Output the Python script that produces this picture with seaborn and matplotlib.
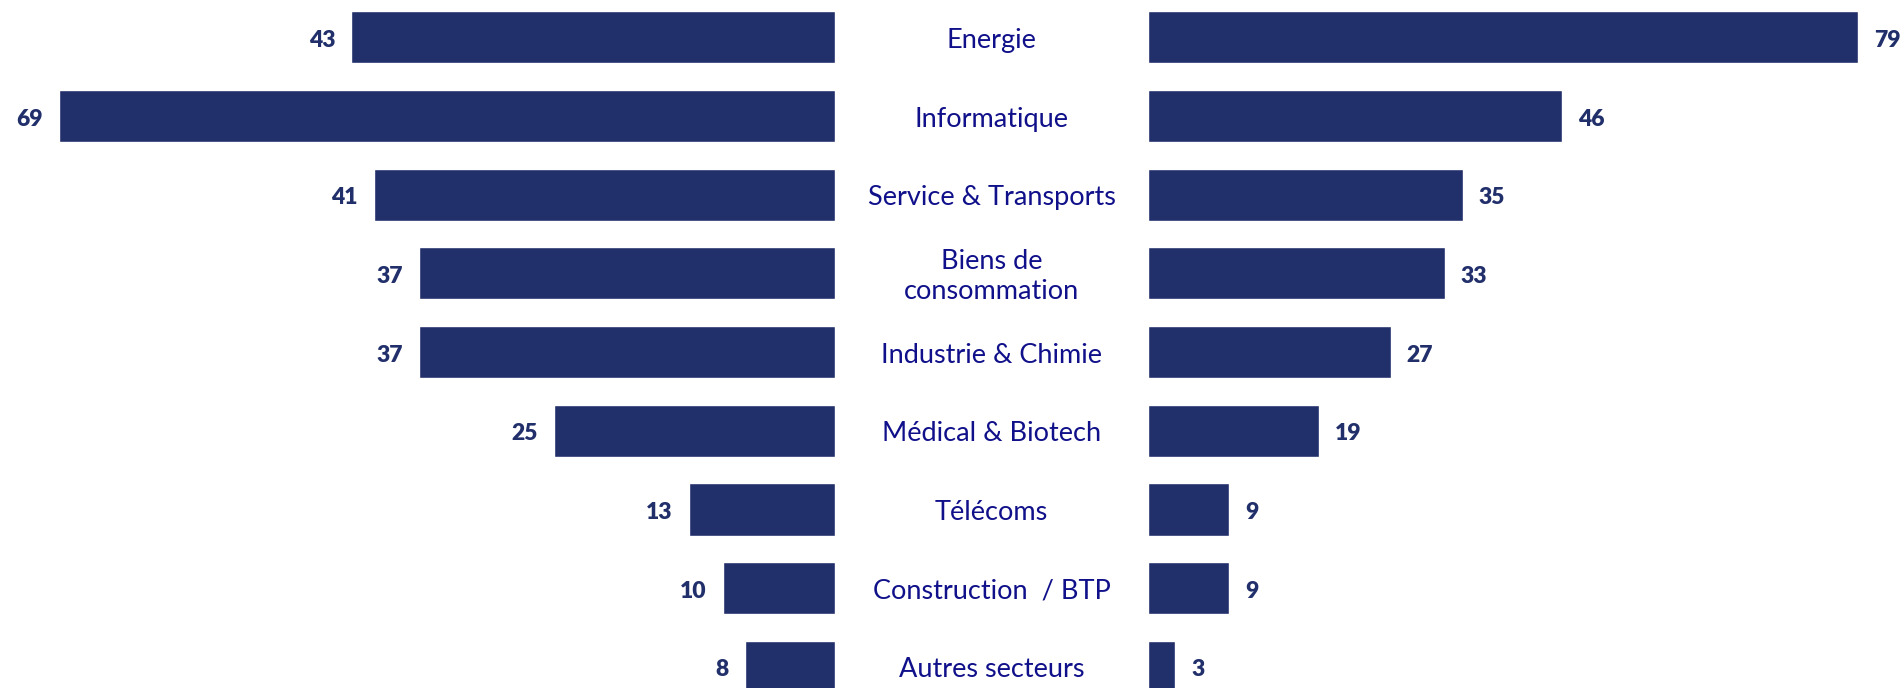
import matplotlib
matplotlib.use("Agg")
import matplotlib.pyplot as plt
import matplotlib.transforms as mtransforms
import seaborn as sns
import pandas as pd

# data
sectors = ["Energie", "Informatique", "Service & Transports", "Biens de\nconsommation",
           "Industrie & Chimie", "Médical & Biotech", "Télécoms", "Construction  / BTP",
           "Autres secteurs"]
left_values = [43, 69, 41, 37, 37, 25, 13, 10, 8]
right_values = [79, 46, 35, 33, 27, 19, 9, 9, 3]

bar_color = "#212F6B"
label_color = "#10108A"

sns.set_style("white")
plt.rcParams["font.family"] = ["Lato", "DejaVu Sans"]

df = pd.DataFrame({"sector": sectors, "left": left_values, "right": right_values})

W, H = 1903, 688
fig = plt.figure(figsize=(W / 100, H / 100), dpi=100)
ax_l = fig.add_axes([0, 0, 835 / W, 1])
ax_r = fig.add_axes([1148 / W, 0, (W - 1148) / W, 1])

sns.barplot(data=df, x="left", y="sector", ax=ax_l, color=bar_color,
            saturation=1, width=0.661, orient="h")
sns.barplot(data=df, x="right", y="sector", ax=ax_r, color=bar_color,
            saturation=1, width=0.661, orient="h")

ax_l.set_xlim(835 / 11.25, 0)
ax_r.set_xlim(0, (W - 1148) / 8.99)

for ax in (ax_l, ax_r):
    ax.set_ylim(8.268, -0.474)
    ax.set_axis_off()

# value labels
for i, v in enumerate(df["left"]):
    ax_l.annotate(str(v), xy=(v, i), xytext=(-16, -3), textcoords="offset pixels",
                  ha="right", va="center", fontsize=16.5, fontweight="heavy",
                  color=bar_color)
for i, v in enumerate(df["right"]):
    ax_r.annotate(str(v), xy=(v, i), xytext=(16, -3), textcoords="offset pixels",
                  ha="left", va="center", fontsize=16.5, fontweight="heavy",
                  color=bar_color, annotation_clip=False)

# sector names in the middle
trans = mtransforms.blended_transform_factory(fig.transFigure, ax_l.transData)
offset = mtransforms.ScaledTranslation(0, -3 / 100, fig.dpi_scale_trans)
for i, s in enumerate(df["sector"]):
    ax_l.text(991.5 / W, i, s, transform=trans + offset, ha="center", va="center",
              fontsize=19.5, color=label_color, linespacing=1.25, clip_on=False)

fig.savefig("out.png", dpi=100)
